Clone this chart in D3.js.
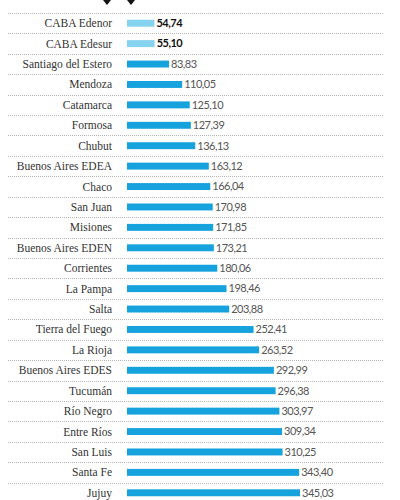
<!DOCTYPE html>
<html><head><meta charset="utf-8">
<script src="https://cdn.jsdelivr.net/npm/d3@7"></script>
<style>html,body{margin:0;padding:0;background:#fff;}svg{display:block;}</style>
</head><body>
<script>
const categories = ["CABA Edenor","CABA Edesur","Santiago del Estero","Mendoza","Catamarca","Formosa","Chubut","Buenos Aires EDEA","Chaco","San Juan","Misiones","Buenos Aires EDEN","Corrientes","La Pampa","Salta","Tierra del Fuego","La Rioja","Buenos Aires EDES","Tucumán","Río Negro","Entre Ríos","San Luis","Santa Fe","Jujuy"];
const values = [54.74,55.10,83.83,110.05,125.10,127.39,136.13,163.12,166.04,170.98,171.85,173.21,180.06,198.46,203.88,252.41,263.52,292.99,296.38,303.97,309.34,310.25,343.40,345.03];
const valueLabels = ["54,74","55,10","83,83","110,05","125,10","127,39","136,13","163,12","166,04","170,98","171,85","173,21","180,06","198,46","203,88","252,41","263,52","292,99","296,38","303,97","309,34","310,25","343,40","345,03"];
const highlighted = ["CABA Edenor","CABA Edesur"];

const W = 400, H = 500;
const svg = d3.select("body").append("svg").attr("width", W).attr("height", H);

const x = d3.scaleLinear().domain([0, 345.03]).range([127, 300]);
const y = d3.scaleBand().domain(categories).range([13, 503]).paddingInner(0.66).paddingOuter(0.33);
const step = y.step();

// arrows at top
[107, 131].forEach(cx => {
  svg.append("path").attr("d", `M${cx-4},0 L${cx+4},0 L${cx},5 Z`).attr("fill", "#111");
});

// dotted separators
const seps = d3.range(categories.length).map(i => y(categories[i]) - y.paddingInner()*step/2 - (step - y.bandwidth() - y.paddingInner()*step)/2);
svg.append("g").selectAll("line").data(categories).join("line")
  .attr("x1", 8).attr("x2", 383)
  .attr("y1", d => Math.round(y(d) + y.bandwidth()/2 - step/2) + 0.5)
  .attr("y2", d => Math.round(y(d) + y.bandwidth()/2 - step/2) + 0.5)
  .attr("stroke", "#b5b5b5").attr("stroke-width", 1).attr("stroke-dasharray", "1,1");

// bars
svg.append("g").selectAll("rect").data(categories).join("rect")
  .attr("x", x(0))
  .attr("y", d => y(d))
  .attr("width", (d, i) => x(values[i]) - x(0))
  .attr("height", y.bandwidth())
  .attr("fill", d => highlighted.includes(d) ? "#86d3ef" : "#16a3dd");

// category labels
svg.append("g").selectAll("text").data(categories).join("text")
  .attr("x", 112)
  .attr("y", d => y(d) + y.bandwidth()/2)
  .attr("dy", "0.35em")
  .attr("text-anchor", "end")
  .attr("font-family", "Liberation Serif, DejaVu Serif, serif")
  .attr("font-size", 11.5)
  .attr("fill", "#333")
  .text(d => d);

// value labels
svg.append("g").selectAll("text").data(categories).join("text")
  .attr("x", (d, i) => x(values[i]) + 2)
  .attr("y", d => y(d) + y.bandwidth()/2)
  .attr("dy", "0.35em")
  .attr("font-family", "Lato, sans-serif")
  .attr("font-size", 11)
  .attr("letter-spacing", "-0.5")
  .attr("font-weight", d => highlighted.includes(d) ? "bold" : "normal")
  .attr("fill", d => highlighted.includes(d) ? "#111" : "#555")
  .text((d, i) => valueLabels[i]);
</script>
</body></html>
